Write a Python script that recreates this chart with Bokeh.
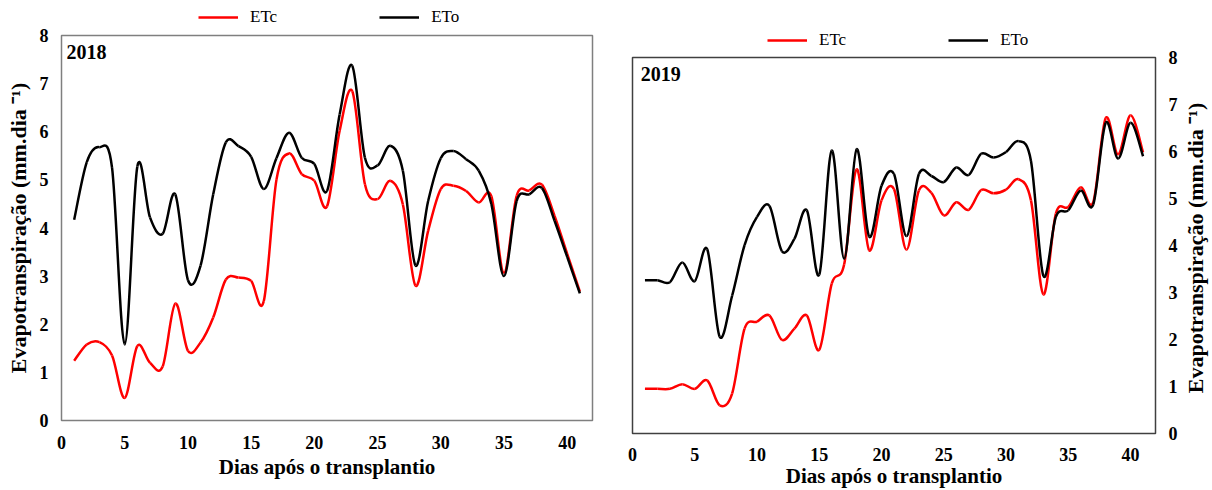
from bokeh.plotting import figure
from bokeh.layouts import row, column
from bokeh.models import (Range1d, FixedTicker, Legend, LegendItem, Label,
                          ColumnDataSource)
from bokeh.embed import file_html
from bokeh.resources import INLINE

# ---------------- data ----------------
dias = [1, 2, 3, 4, 5, 6, 7, 8, 9, 10, 11, 12, 13, 14, 15, 16, 17, 18, 19, 20,
        21, 22, 23, 24, 25, 26, 27, 28, 29, 30, 31, 32, 33, 34, 35, 36, 37, 38,
        39, 40, 41]

eto_2018 = [4.17, 5.37, 5.68, 5.25, 1.58, 5.28, 4.22, 3.88, 4.70, 2.92, 3.22,
            4.70, 5.78, 5.70, 5.48, 4.81, 5.45, 5.98, 5.46, 5.33, 4.77, 6.36,
            7.37, 5.46, 5.30, 5.71, 5.19, 3.22, 4.56, 5.45, 5.60, 5.43, 5.19,
            4.50, 3.00, 4.56, 4.70, 4.83, 4.15, 3.40, 2.64]
etc_2018 = [1.24, 1.58, 1.63, 1.35, 0.47, 1.55, 1.20, 1.12, 2.43, 1.45, 1.62,
            2.14, 2.93, 2.97, 2.90, 2.48, 5.00, 5.55, 5.12, 4.98, 4.45, 6.02,
            6.84, 4.91, 4.60, 4.98, 4.49, 2.80, 3.94, 4.81, 4.88, 4.77, 4.53,
            4.66, 3.07, 4.67, 4.78, 4.90, 4.25, 3.46, 2.68]

eto_2019 = [3.26, 3.26, 3.22, 3.64, 3.24, 3.92, 2.06, 2.93, 4.01, 4.61, 4.84,
            3.88, 4.14, 4.75, 3.38, 6.02, 3.72, 6.05, 4.19, 5.27, 5.52, 4.20,
            5.52, 5.48, 5.35, 5.66, 5.50, 5.95, 5.87, 5.99, 6.22, 5.80, 3.35,
            4.61, 4.75, 5.17, 4.87, 6.61, 5.85, 6.61, 5.90]
etc_2019 = [0.95, 0.95, 0.95, 1.05, 0.95, 1.13, 0.60, 0.85, 2.23, 2.38, 2.51,
            1.99, 2.23, 2.51, 1.78, 3.19, 3.60, 5.62, 3.90, 4.96, 5.20, 3.91,
            5.17, 5.12, 4.64, 4.92, 4.76, 5.18, 5.11, 5.19, 5.41, 4.96, 2.96,
            4.68, 4.82, 5.24, 4.92, 6.71, 5.94, 6.77, 5.98]

series_labels = ["ETc", "ETo"]
series_colors = ["#FF0000", "#000000"]
x_ticks = [0, 5, 10, 15, 20, 25, 30, 35, 40]
y_ticks = [0, 1, 2, 3, 4, 5, 6, 7, 8]
x_title = "Dias após o transplantio"
y_title = "Evapotranspiração (mm.dia \u207b\u00b9)"

FONT = "Liberation Serif"


def smooth_source(xs, ys):
    """Bezier segments (Catmull-Rom style control points, like Excel's smoothed line)."""
    n = len(xs)
    d = dict(x0=[], y0=[], x1=[], y1=[], cx0=[], cy0=[], cx1=[], cy1=[])
    for i in range(n - 1):
        xa, ya = (xs[i - 1], ys[i - 1]) if i > 0 else (xs[i], ys[i])
        xd, yd = (xs[i + 2], ys[i + 2]) if i + 2 < n else (xs[i + 1], ys[i + 1])
        d["x0"].append(xs[i]); d["y0"].append(ys[i])
        d["x1"].append(xs[i + 1]); d["y1"].append(ys[i + 1])
        d["cx0"].append(xs[i] + (xs[i + 1] - xa) / 6.0)
        d["cy0"].append(ys[i] + (ys[i + 1] - ya) / 6.0)
        d["cx1"].append(xs[i + 1] - (xd - xs[i]) / 6.0)
        d["cy1"].append(ys[i + 1] - (yd - ys[i]) / 6.0)
    return ColumnDataSource(d)


def style_axis(ax, label_size):
    ax.axis_line_color = None
    ax.major_tick_line_color = None
    ax.minor_tick_line_color = None
    ax.major_label_text_font = FONT
    ax.major_label_text_font_style = "bold"
    ax.major_label_text_font_size = "18px"
    ax.major_label_text_color = "black"
    ax.axis_label_text_font = FONT
    ax.axis_label_text_font_style = "bold"
    ax.axis_label_text_font_size = label_size
    ax.axis_label_text_color = "black"


def make_legend_fig(width, height, loc):
    f = figure(width=width, height=height, x_range=Range1d(0, 1),
               y_range=Range1d(0, 1), x_axis_type=None, y_axis_type=None,
               output_backend="svg", toolbar_location=None,
               min_border_left=0, min_border_right=0, min_border_top=0,
               min_border_bottom=0)
    f.outline_line_color = None
    f.xgrid.visible = False
    f.ygrid.visible = False
    # legend-only renderers (no visible data)
    nan_src = ColumnDataSource(dict(x=[float("nan")], y=[float("nan")]))
    r_c = f.line("x", "y", source=nan_src, line_color=series_colors[0], line_width=2.5)
    r_o = f.line("x", "y", source=nan_src, line_color=series_colors[1], line_width=2.5)
    legend = Legend(items=[LegendItem(label=series_labels[0], renderers=[r_c]),
                           LegendItem(label=series_labels[1], renderers=[r_o])],
                    orientation="horizontal", location=loc,
                    spacing=102, glyph_width=40, glyph_height=18,
                    label_height=18, label_standoff=12, label_text_font=FONT,
                    label_text_font_size="17px", label_text_color="black",
                    label_text_baseline="middle",
                    padding=0, margin=0,
                    border_line_color=None, background_fill_alpha=0)
    f.add_layout(legend, "center")
    return f


def make_title_fig(width, height, top, bottom):
    """Narrow figure carrying the right-hand y title (reads bottom-to-top)."""
    f = figure(width=width, height=height, x_range=Range1d(0, 1),
               y_range=Range1d(0, 8), x_axis_type=None,
               output_backend="svg", toolbar_location=None,
               y_axis_location="left", min_border_left=0, min_border_right=0,
               min_border_top=top, min_border_bottom=bottom)
    f.outline_line_color = None
    f.xgrid.visible = False
    f.ygrid.visible = False
    ax = f.yaxis[0]
    style_axis(ax, "22px")
    ax.ticker = FixedTicker(ticks=[])
    ax.major_label_standoff = 0
    ax.axis_label = y_title
    ax.axis_label_standoff = 5
    return f


def make_panel(etc, eto, year, width, height, borders, yaxis_loc, outline,
               year_x, xstand, with_ytitle):
    p = figure(width=width, height=height, x_range=Range1d(0, 42),
               y_range=Range1d(0, 8), output_backend="svg",
               toolbar_location=None, y_axis_location=yaxis_loc,
               min_border_left=borders[0], min_border_right=borders[1],
               min_border_top=borders[2], min_border_bottom=borders[3])
    p.background_fill_color = "white"
    p.border_fill_color = "white"
    p.outline_line_color = outline
    p.outline_line_width = 1.5
    p.xgrid.visible = False
    p.ygrid.visible = False

    style_axis(p.xaxis[0], "21px")
    style_axis(p.yaxis[0], "22px")
    p.xaxis.ticker = FixedTicker(ticks=x_ticks)
    p.yaxis.ticker = FixedTicker(ticks=y_ticks)
    p.xaxis.axis_label = x_title
    p.xaxis.major_label_standoff = xstand[0]
    p.xaxis.axis_label_standoff = xstand[1]
    p.yaxis.major_label_standoff = 7
    if with_ytitle:
        p.yaxis.axis_label = y_title
        p.yaxis.axis_label_standoff = 6

    src_c = smooth_source(dias, etc)
    src_o = smooth_source(dias, eto)
    p.bezier(x0="x0", y0="y0", x1="x1", y1="y1", cx0="cx0", cy0="cy0",
             cx1="cx1", cy1="cy1", source=src_c,
             line_color=series_colors[0], line_width=2.5)
    p.bezier(x0="x0", y0="y0", x1="x1", y1="y1", cx0="cx0", cy0="cy0",
             cx1="cx1", cy1="cy1", source=src_o,
             line_color=series_colors[1], line_width=2.5)

    p.add_layout(Label(x=year_x, y=7.8, text=year, text_font=FONT,
                       text_font_style="bold", text_font_size="20px",
                       text_baseline="top", text_align="left",
                       text_color="black"))
    return p


leg1 = make_legend_fig(606, 25, (137, -2))
p1 = make_panel(etc_2018, eto_2018, "2018", 606, 465, (61, 14, 10, 70),
                "left", "#7f7f7f", 0.4, (9, 3), True)
leg2 = make_legend_fig(574, 48, (135, -2))
p2 = make_panel(etc_2019, eto_2019, "2019", 574, 442, (26, 20, 9, 52),
                "right", "#404040", 0.66, (8, 0), False)
ttl2 = make_title_fig(32, 490, 57, 52)

layout = row(column(leg1, p1), column(leg2, p2), ttl2)
open("out.html", "w").write(file_html(layout, INLINE))
